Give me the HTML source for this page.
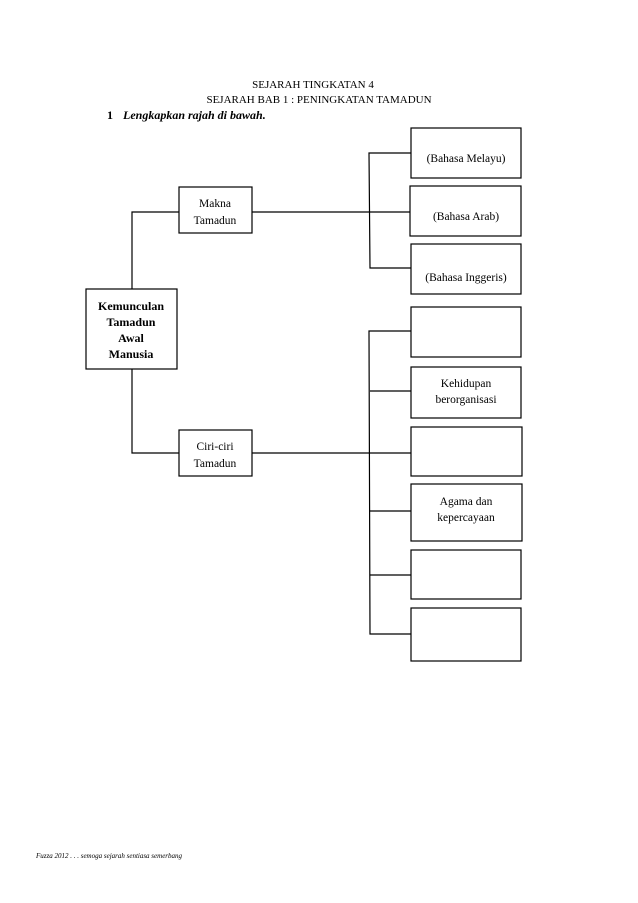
<!DOCTYPE html>
<html><head><meta charset="utf-8"><style>
body{margin:0;background:#fff;}
svg{display:block}
text{font-family:"Liberation Serif",serif;fill:#000}
</style></head><body>
<svg width="638" height="903" viewBox="0 0 638 903" xmlns="http://www.w3.org/2000/svg">
<g font-size="11" text-anchor="middle">
<text x="313" y="88">SEJARAH TINGKATAN 4</text>
<text x="319" y="103">SEJARAH BAB 1 : PENINGKATAN TAMADUN</text>
</g>
<text x="107" y="119" font-size="12" font-weight="bold">1</text>
<text x="123" y="119" font-size="12" font-weight="bold" font-style="italic">Lengkapkan rajah di bawah.</text>
<g fill="#fff" stroke="#000" stroke-width="1.2">
<rect x="411" y="128" width="110" height="50"/>
<rect x="410" y="186" width="111" height="50"/>
<rect x="411" y="244" width="110" height="50"/>
<rect x="179" y="187" width="73" height="46"/>
<rect x="86" y="289" width="91" height="80"/>
<rect x="179" y="430" width="73" height="46"/>
<rect x="411" y="307" width="110" height="50"/>
<rect x="411" y="367" width="110" height="51"/>
<rect x="411" y="427" width="111" height="49"/>
<rect x="411" y="484" width="111" height="57"/>
<rect x="411" y="550" width="110" height="49"/>
<rect x="411" y="608" width="110" height="53"/>
</g>
<g stroke="#000" stroke-width="1.2" fill="none">
<polyline points="132,289 132,212 179,212"/>
<polyline points="132,369 132,453 179,453"/>
<line x1="252" y1="212" x2="410" y2="212"/>
<polyline points="411,153 369,153 370,268 411,268"/>
<line x1="252" y1="453" x2="411" y2="453"/>
<polyline points="411,331 369,331 370,634 411,634"/>
<line x1="370" y1="391" x2="411" y2="391"/>
<line x1="370" y1="511" x2="411" y2="511"/>
<line x1="370" y1="575" x2="411" y2="575"/>
</g>
<g font-size="11.5" text-anchor="middle">
<text x="466" y="162">(Bahasa Melayu)</text>
<text x="466" y="220">(Bahasa Arab)</text>
<text x="466" y="281">(Bahasa Inggeris)</text>
<text x="215" y="207">Makna</text>
<text x="215" y="224">Tamadun</text>
<text x="215" y="450">Ciri-ciri</text>
<text x="215" y="467">Tamadun</text>
<text x="466" y="387">Kehidupan</text>
<text x="466" y="403">berorganisasi</text>
<text x="466" y="505">Agama dan</text>
<text x="466" y="521">kepercayaan</text>
</g>
<g font-size="12" font-weight="bold" text-anchor="middle">
<text x="131" y="310">Kemunculan</text>
<text x="131" y="326">Tamadun</text>
<text x="131" y="342">Awal</text>
<text x="131" y="358">Manusia</text>
</g>
<text x="36" y="858" font-size="7" font-style="italic">Fuzza 2012 . . . semoga sejarah sentiasa semerbang</text>
</svg>
</body></html>
